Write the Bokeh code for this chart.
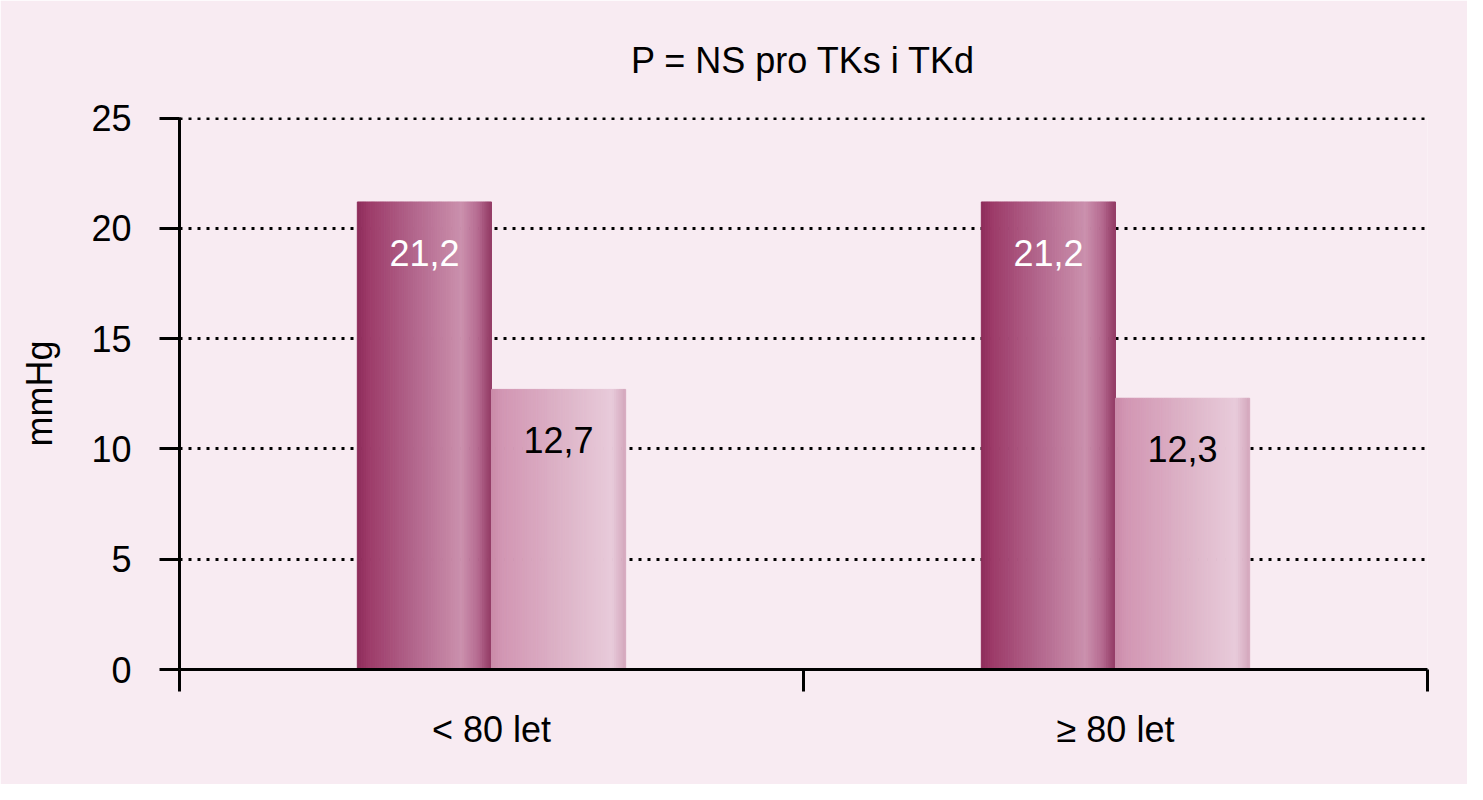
from bokeh.plotting import figure
from bokeh.models import Range1d, FixedTicker, ColumnDataSource
from bokeh.embed import file_html
from bokeh.resources import INLINE
from bokeh.core.properties import value

# ---- data ----
categories = ["< 80 let", "≥ 80 let"]
tks_values = [21.2, 21.2]   # systolic drop (dark bars)
tkd_values = [12.7, 12.3]   # diastolic drop (light bars)
tks_labels = ["21,2", "21,2"]
tkd_labels = ["12,7", "12,3"]
y_ticks = [0, 5, 10, 15, 20, 25]
title_text = "P = NS pro TKs i TKd"
y_label = "mmHg"

# ---- style ----
BG = "#f8ebf2"
FONT = "Liberation Sans"
BAR_W = 0.215
N_STRIPS = 60
dark_stops = [(0.0, "#8e2b5a"), (0.08, "#9c3a68"), (0.45, "#b4698f"),
              (0.78, "#cb91ad"), (0.9, "#b66b91"), (1.0, "#923a64")]
light_stops = [(0.0, "#c98aa8"), (0.08, "#d296b3"), (0.6, "#dfb8cb"),
               (0.9, "#e8cbda"), (1.0, "#d4a7bd")]


def hex2rgb(h):
    h = h.lstrip("#")
    return tuple(int(h[i:i + 2], 16) for i in (0, 2, 4))


def grad(stops, t):
    for (t0, c0), (t1, c1) in zip(stops[:-1], stops[1:]):
        if t0 <= t <= t1:
            f = (t - t0) / (t1 - t0) if t1 > t0 else 0
            a, b = hex2rgb(c0), hex2rgb(c1)
            return "#%02x%02x%02x" % tuple(int(round(a[i] + (b[i] - a[i]) * f)) for i in range(3))
    return stops[-1][1]


p = figure(width=1467, height=784, output_backend="svg", toolbar_location=None,
           x_range=Range1d(0, len(categories)), y_range=Range1d(0, 25.03),
           min_border_left=179, min_border_right=40, min_border_top=115, min_border_bottom=115)
p.background_fill_color = BG
p.border_fill_color = BG
p.outline_line_color = None

# gradient bars built as thin strips from the data positions
strips = dict(left=[], right=[], top=[], color=[])
for i, (v1, v2) in enumerate(zip(tks_values, tkd_values)):
    c = i + 0.5
    for (l0, val, stops) in ((c - BAR_W, v1, dark_stops), (c, v2, light_stops)):
        for k in range(N_STRIPS):
            t = (k + 0.5) / N_STRIPS
            strips["left"].append(l0 + BAR_W * k / N_STRIPS)
            strips["right"].append(l0 + BAR_W * (k + 1) / N_STRIPS)
            strips["top"].append(val)
            strips["color"].append(grad(stops, t))
p.quad(left="left", right="right", top="top", bottom=0, fill_color="color",
       line_color="color", line_width=1, source=ColumnDataSource(strips))

# value labels
lab = ColumnDataSource(dict(
    x=[i + 0.5 - BAR_W / 2 for i in range(len(categories))] + [i + 0.5 + BAR_W / 2 for i in range(len(categories))],
    y=tks_values + tkd_values,
    t=tks_labels + tkd_labels,
    c=["white"] * len(categories) + ["black"] * len(categories),
))
p.text(x="x", y="y", text="t", text_color="c", source=lab, y_offset=51,
       text_align="center", text_baseline="middle",
       text_font=value(FONT), text_font_size="36px")

# axes
p.yaxis.ticker = FixedTicker(ticks=y_ticks)
p.yaxis.axis_line_width = 3
p.yaxis.major_tick_line_width = 3
p.yaxis.major_tick_out = 20
p.yaxis.major_tick_in = 0
p.yaxis.minor_tick_line_color = None
p.yaxis.major_label_standoff = 28
p.yaxis.major_label_text_font = FONT
p.yaxis.major_label_text_font_size = "36px"
p.yaxis.major_label_text_color = "black"
p.yaxis.axis_label = y_label
p.yaxis.axis_label_text_font = FONT
p.yaxis.axis_label_text_font_size = "36px"
p.yaxis.axis_label_text_font_style = "normal"
p.yaxis.axis_label_text_color = "black"
p.yaxis.axis_label_standoff = 28

p.xaxis.ticker = FixedTicker(ticks=[i + 0.5 for i in range(len(categories))],
                             minor_ticks=list(range(len(categories) + 1)))
p.xaxis.major_label_overrides = {i + 0.5: c for i, c in enumerate(categories)}
p.xaxis.axis_line_width = 3
p.xaxis.major_tick_line_color = None
p.xaxis.major_tick_out = 0
p.xaxis.major_tick_in = 0
p.xaxis.minor_tick_line_width = 3
p.xaxis.minor_tick_out = 22
p.xaxis.minor_tick_in = 0
p.xaxis.major_label_standoff = 17
p.xaxis.major_label_text_font = FONT
p.xaxis.major_label_text_font_size = "36px"
p.xaxis.major_label_text_color = "black"

p.xgrid.grid_line_color = None
p.ygrid.ticker = FixedTicker(ticks=y_ticks)
p.ygrid.grid_line_color = "black"
p.ygrid.grid_line_width = 3
p.ygrid.grid_line_dash = "3 6"

p.title.text = title_text
p.title.align = "center"
p.title.text_font = FONT
p.title.text_font_size = "36px"
p.title.text_font_style = "normal"
p.title.text_color = "black"
p.title.standoff = 74

open("out.html", "w").write(file_html(p, INLINE))
